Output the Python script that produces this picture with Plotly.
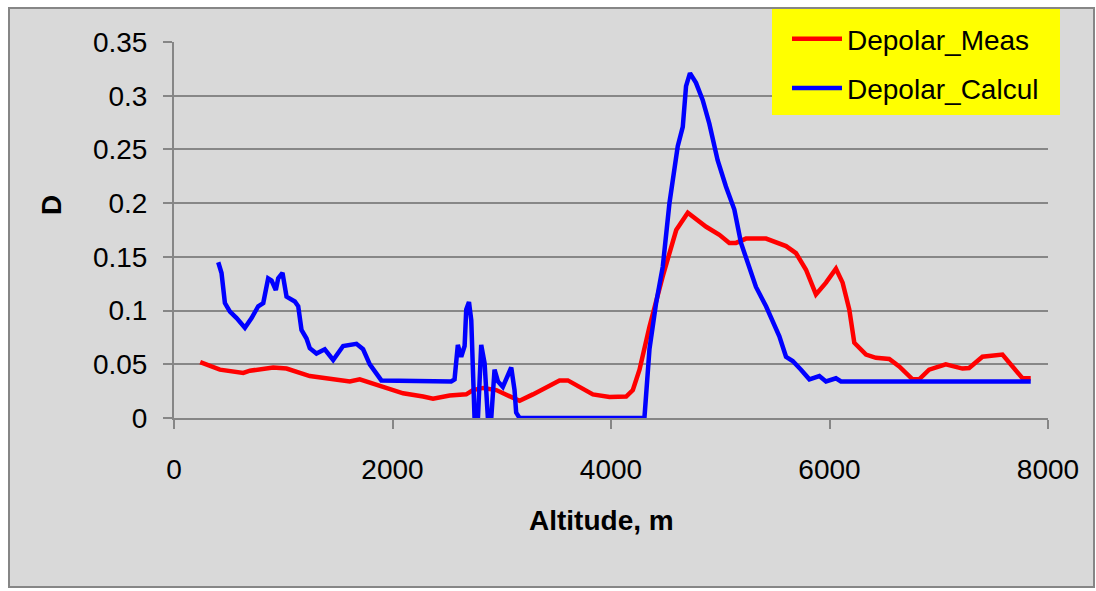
import plotly.graph_objects as go

# Depolar_Meas (red)
red_x = [240, 420, 634, 695, 908, 1030, 1243, 1426, 1609, 1700,
         1914, 2097, 2280, 2371, 2523, 2675, 2737, 2830, 2950, 3050,
         3163, 3285, 3420, 3529, 3605, 3700, 3834, 3986, 4139, 4200,
         4261, 4352, 4474, 4597, 4703, 4871, 4992, 5083, 5144, 5236,
         5419, 5602, 5693, 5785, 5876, 5968, 6059, 6120, 6181, 6227,
         6334, 6425, 6547, 6638, 6760, 6821, 6912, 7064, 7217, 7278,
         7400, 7583, 7674, 7766, 7842]
red_y = [0.052, 0.045, 0.042, 0.044, 0.047, 0.046, 0.039, 0.037, 0.034, 0.036,
         0.029, 0.023, 0.020, 0.018, 0.021, 0.022, 0.026, 0.028, 0.026, 0.021,
         0.016, 0.022, 0.029, 0.035, 0.035, 0.030, 0.022, 0.0195, 0.020, 0.026,
         0.045, 0.085, 0.132, 0.175, 0.191, 0.178, 0.1705, 0.163, 0.163, 0.167,
         0.167, 0.160, 0.1535, 0.138, 0.115, 0.126, 0.139, 0.126, 0.101, 0.070,
         0.059, 0.056, 0.055, 0.048, 0.036, 0.036, 0.045, 0.050, 0.046, 0.0465,
         0.057, 0.059, 0.048, 0.037, 0.037]

# Depolar_Calcul (blue)
blue_x = [405, 435, 466, 512, 573, 649, 710, 771, 817, 862,
          893, 932, 954, 993, 1030, 1106, 1137, 1167, 1213, 1243,
          1304, 1380, 1457, 1548, 1670, 1731, 1792, 1898, 2537, 2568,
          2598, 2629, 2660, 2675, 2700, 2721, 2751, 2782, 2812, 2843,
          2873, 2904, 2934, 2965, 3010, 3041, 3087, 3117, 3132, 3163,
          4306, 4352, 4413, 4474, 4535, 4611, 4657, 4687, 4723, 4778,
          4839, 4900, 4976, 5052, 5129, 5190, 5251, 5327, 5419, 5495,
          5541, 5602, 5663, 5739, 5816, 5907, 5968, 6059, 6105, 7842]
blue_y = [0.145, 0.135, 0.107, 0.099, 0.093, 0.084, 0.093, 0.104, 0.107, 0.130,
          0.128, 0.119, 0.130, 0.135, 0.113, 0.1085, 0.104, 0.082, 0.074, 0.065,
          0.060, 0.064, 0.054, 0.067, 0.069, 0.064, 0.050, 0.035, 0.034, 0.036,
          0.068, 0.057, 0.067, 0.101, 0.108, 0.091, 0.0, 0.0, 0.068, 0.051,
          0.0, 0.0, 0.045, 0.034, 0.029, 0.036, 0.047, 0.026, 0.005, 0.0,
          0.0, 0.064, 0.107, 0.141, 0.200, 0.253, 0.271, 0.309, 0.321, 0.312,
          0.296, 0.274, 0.240, 0.2155, 0.194, 0.163, 0.144, 0.122, 0.104, 0.088,
          0.076, 0.057, 0.053, 0.045, 0.036, 0.039, 0.034, 0.037, 0.034, 0.034]

x_ticks = [0, 2000, 4000, 6000, 8000]
y_ticks = [0, 0.05, 0.1, 0.15, 0.2, 0.25, 0.3, 0.35]

FONT = "Liberation Sans, Arial, sans-serif"
W, H = 1096, 591
L, R, T, B = 174, 48, 42, 173
PW, PH = W - L - R, H - T - B

def px(x):
    return (x - L) / PW

def py(y):
    return (H - B - y) / PH

fig = go.Figure()
fig.add_trace(go.Scatter(x=red_x, y=red_y, mode="lines", name="Depolar_Meas",
                         legendgroup="a",
                         line=dict(color="#FF0000", width=4.5), cliponaxis=False))
fig.add_trace(go.Scatter(x=blue_x, y=blue_y, mode="lines", name="Depolar_Calcul",
                         legendgroup="b",
                         line=dict(color="#0000FF", width=4.5), cliponaxis=False))

fig.update_layout(
    width=W, height=H,
    margin=dict(l=L, r=R, t=T, b=B, pad=0),
    paper_bgcolor="white",
    plot_bgcolor="#D9D9D9",
    font=dict(family=FONT, size=28, color="black"),
    showlegend=True,
    legend=dict(x=px(787), y=py(14), xanchor="left", yanchor="top",
                bgcolor="rgba(0,0,0,0)", font=dict(size=28, family=FONT),
                tracegroupgap=10, itemwidth=50),
    shapes=[
        dict(type="rect", xref="paper", yref="paper",
             x0=px(9), x1=px(1094), y0=py(587), y1=py(8),
             fillcolor="#D9D9D9", line=dict(color="#868686", width=2),
             layer="below"),
        dict(type="rect", xref="paper", yref="paper",
             x0=px(772), x1=px(1060), y0=py(115), y1=py(9),
             fillcolor="#FFFF00", line=dict(width=0), layer="above"),
    ],
    annotations=[
        dict(text="<b>Altitude, m</b>", xref="paper", yref="paper",
             x=px(601), y=py(520), showarrow=False,
             xanchor="center", yanchor="middle", font=dict(size=28, family=FONT)),
        dict(text="<b>D</b>", xref="paper", yref="paper",
             x=px(52), y=py(205), showarrow=False, textangle=-90,
             xanchor="center", yanchor="middle", font=dict(size=28, family=FONT)),
    ],
)

fig.update_xaxes(range=[0, 8000], tickvals=x_ticks, ticktext=[str(v) for v in x_ticks],
                 showgrid=False, zeroline=False,
                 showline=True, linecolor="#868686", linewidth=2,
                 ticks="outside", ticklen=9, tickwidth=2, tickcolor="#868686",
                 tickfont=dict(size=28, family=FONT), ticklabelstandoff=16)
fig.update_yaxes(range=[0, 0.35], tickvals=y_ticks,
                 ticktext=["0", "0.05", "0.1", "0.15", "0.2", "0.25", "0.3", "0.35"],
                 showgrid=True, gridcolor="#878787", gridwidth=2, zeroline=False,
                 showline=True, linecolor="#868686", linewidth=2,
                 ticks="outside", ticklen=9, tickwidth=2, tickcolor="#868686",
                 tickfont=dict(size=28, family=FONT), ticklabelstandoff=10)

fig.write_html("out.html")
